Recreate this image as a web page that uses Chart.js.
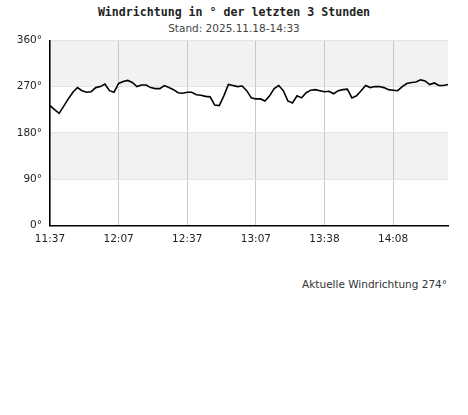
<!DOCTYPE html>
<html lang="de">
<head>
  <meta charset="UTF-8">
  <title>Windrichtung</title>
  <script src="https://cdn.jsdelivr.net/npm/chart.js"></script>
  <style>
    html, body { margin: 0; padding: 0; background: #fff; }
    .head { position: absolute; left: 0; width: 468px; text-align: center; white-space: nowrap; }
    #title { top: 5px; font: bold 11.6px "DejaVu Sans Mono", monospace; color: #222; }
    #subtitle { top: 22px; font: 10.5px "DejaVu Sans", sans-serif; color: #444; }
    #wrap { position: absolute; top: 26px; left: 0; width: 468px; height: 228px; }
    #current {
      position: absolute; top: 278px; right: 21px;
      font: 10.5px "DejaVu Sans", sans-serif; color: #333;
    }
  </style>
</head>
<body>
  <div id="title" class="head">Windrichtung in ° der letzten 3 Stunden</div>
  <div id="subtitle" class="head">Stand: 2025.11.18-14:33</div>
  <div id="wrap"><canvas id="wind-chart"></canvas></div>
  <div id="current">Aktuelle Windrichtung 274°</div>

  <script>
    // wind direction in degrees, one reading about every 2 minutes
    const windDir = [
      233, 225, 218, 232, 246, 259, 268, 262, 259, 260,
      268, 270, 275, 262, 259, 276, 280, 282, 278, 270,
      273, 273, 268, 266, 266, 272, 268, 264, 258, 257,
      259, 259, 254, 253, 251, 250, 234, 233, 252, 274,
      272, 270, 271, 262, 248, 246, 246, 242, 252, 266,
      272, 262, 242, 238, 252, 248, 258, 263, 264, 262,
      260, 261, 256, 262, 264, 265, 248, 252, 262, 272,
      268, 270, 270, 268, 264, 263, 262, 270, 276, 278,
      279, 283, 281, 274, 277, 272, 272, 274
    ];
    const tickIndex = [0, 15, 30, 45, 60, 75];
    const tickLabels = ['11:37', '12:07', '12:37', '13:07', '13:38', '14:08'];
    const yTicks = [0, 90, 180, 270, 360];
    const greyBands = [[90, 180], [270, 360]];

    const points = windDir.map((v, i) => ({ x: i, y: v }));

    // shaded bands behind the line
    const bandPlugin = {
      id: 'bands',
      beforeDraw(chart) {
        const { ctx, chartArea, scales } = chart;
        ctx.save();
        ctx.fillStyle = '#f2f2f2';
        greyBands.forEach(([lo, hi]) => {
          const yTop = scales.y.getPixelForValue(hi);
          const yBot = scales.y.getPixelForValue(lo);
          ctx.fillRect(chartArea.left, yTop, chartArea.right - chartArea.left, yBot - yTop);
        });
        ctx.restore();
      }
    };

    new Chart(document.getElementById('wind-chart'), {
      type: 'line',
      data: {
        datasets: [{
          data: points,
          borderColor: '#000',
          borderWidth: 1.6,
          pointRadius: 0,
          tension: 0,
          fill: false
        }]
      },
      options: {
        responsive: true,
        maintainAspectRatio: false,
        animation: false,
        layout: { padding: { left: 0, right: 20, top: 0, bottom: 0 } },
        plugins: {
          legend: { display: false },
          tooltip: { enabled: false }
        },
        scales: {
          x: {
            type: 'linear',
            min: 0,
            max: windDir.length - 1,
            afterBuildTicks: (scale) => { scale.ticks = tickIndex.map(v => ({ value: v })); },
            ticks: {
              callback: (v) => tickLabels[tickIndex.indexOf(v)],
              color: '#222',
              font: { family: '"DejaVu Sans"', size: 10.5 },
              padding: 8,
              maxRotation: 0
            },
            grid: { color: '#c8c8c8', drawTicks: false },
            border: { color: '#000', width: 1.5 }
          },
          y: {
            min: 0,
            max: 360,
            afterBuildTicks: (scale) => { scale.ticks = yTicks.map(v => ({ value: v })); },
            afterFit: (scale) => { scale.width = 50; },
            ticks: {
              callback: (v) => v + '°',
              color: '#222',
              font: { family: '"DejaVu Sans"', size: 10.5 },
              padding: 8
            },
            grid: { color: '#e4e4e4', drawTicks: false },
            border: { color: '#000', width: 1.5 }
          }
        }
      },
      plugins: [bandPlugin]
    });
  </script>
</body>
</html>
